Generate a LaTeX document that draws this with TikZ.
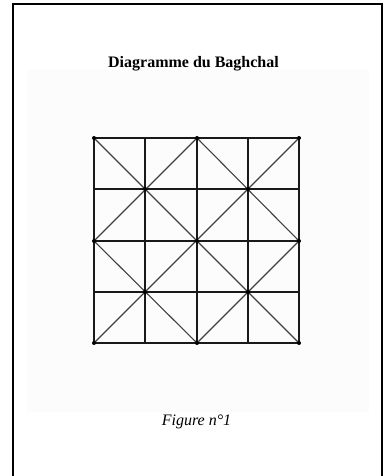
\documentclass[tikz,border=0pt]{standalone}
\usepackage{fontspec}
\setmainfont{Liberation Serif}
\begin{document}
\begin{tikzpicture}[x=1pt,y=-1pt,
  frame/.style={line width=2pt,black},
  gridline/.style={line width=2pt,black!90},
  diag/.style={line width=1.1pt,black!75},
  junction/.style={circle,fill=black,inner sep=0pt,minimum size=4pt},
  title/.style={font=\fontsize{16}{19}\selectfont\bfseries},
  caption/.style={font=\fontsize{16}{19}\selectfont\itshape}]
\useasboundingbox (0,0) rectangle (387,476);
\fill[white] (0,0) rectangle (387,476);
\fill[black!1] (27,70) rectangle (369,412);
\draw[frame] (13,476) -- (13,4) -- (382,4) -- (382,476);
\node[title,anchor=base] (t) at (193.5,68) {Diagramme du Baghchal};
\node[caption,anchor=base] (c) at (196.5,425) {Figure n°1};
% grid points
\foreach \i/\x in {0/94,1/145,2/197,3/248,4/299}{
  \foreach \j/\y in {0/138,1/189,2/241,3/292,4/343}{
    \coordinate (p\i\j) at (\x,\y);
  }
}
% diagonals
\draw[diag] (p00) -- (p44);
\draw[diag] (p40) -- (p04);
\draw[diag] (p20) -- (p42) -- (p24) -- (p02) -- cycle;
% grid lines
\foreach \k in {0,...,4}{
  \draw[gridline] (p\k0) -- (p\k4);
  \draw[gridline] (p0\k) -- (p4\k);
}
% junction dots
\foreach \a/\b in {0/0,2/0,4/0,1/1,3/1,0/2,2/2,4/2,1/3,3/3,0/4,2/4,4/4}{
  \node[junction] (d\a\b) at (p\a\b) {};
}
\end{tikzpicture}
\end{document}
